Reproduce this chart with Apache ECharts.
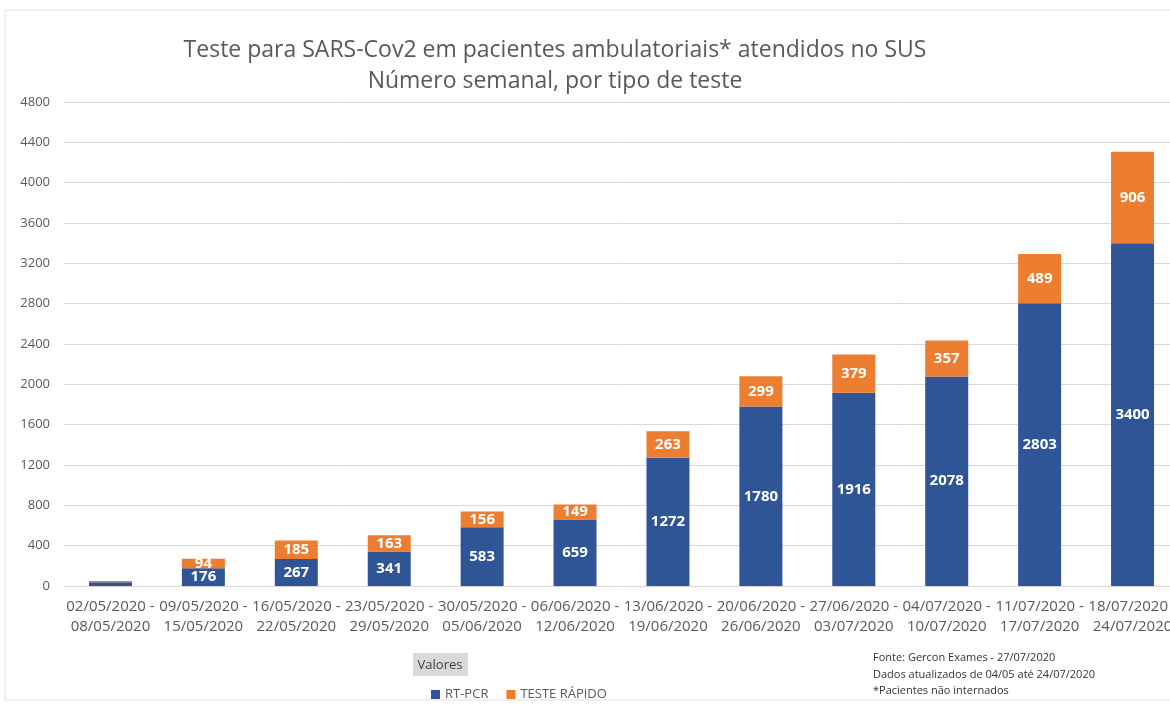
<!DOCTYPE html>
<html>
    <head>
        <meta charset="utf-8">
        <title>Teste para SARS-Cov2</title>
        <script src="https://cdn.jsdelivr.net/npm/echarts@6/dist/echarts.min.js"></script>
        <style>
            html, body { margin: 0; padding: 0; background: #fff; overflow: hidden; }
            #chart1 { width: 1180px; height: 711px; }
        </style>
    </head>
    <body>
        <div id="chart1"></div>
        <script type="text/javascript">
            const semanas = [
                '02/05/2020 -\n08/05/2020', '09/05/2020 -\n15/05/2020', '16/05/2020 -\n22/05/2020',
                '23/05/2020 -\n29/05/2020', '30/05/2020 -\n05/06/2020', '06/06/2020 -\n12/06/2020',
                '13/06/2020 -\n19/06/2020', '20/06/2020 -\n26/06/2020', '27/06/2020 -\n03/07/2020',
                '04/07/2020 -\n10/07/2020', '11/07/2020 -\n17/07/2020', '18/07/2020 -\n24/07/2020'
            ];
            const rtPcr = [38, 176, 267, 341, 583, 659, 1272, 1780, 1916, 2078, 2803, 3400];
            const testeRapido = [12, 94, 185, 163, 156, 149, 263, 299, 379, 357, 489, 906];

            const font = '"Open Sans", sans-serif';
            const myChart1 = echarts.init(document.getElementById('chart1'));

            function rotulo(p) {
                return p.value < 60 ? '' : p.value;
            }

            myChart1.setOption({
                animation: false,
                textStyle: { fontFamily: font },
                title: {
                    text: 'Teste para SARS-Cov2 em pacientes ambulatoriais* atendidos no SUS\nNúmero semanal, por tipo de teste',
                    left: 550,
                    top: 30,
                    textAlign: 'center',
                    textStyle: {
                        fontFamily: font,
                        fontWeight: 'normal',
                        fontSize: 23,
                        lineHeight: 31,
                        color: '#595959'
                    }
                },
                legend: {
                    data: ['RT-PCR', 'TESTE RÁPIDO'],
                    left: 426,
                    top: 683,
                    icon: 'rect',
                    itemWidth: 9,
                    itemHeight: 9,
                    itemGap: 18,
                    textStyle: { fontFamily: font, fontSize: 13, color: '#595959' }
                },
                grid: {
                    left: 64,
                    top: 102,
                    right: 1,
                    height: 484
                },
                xAxis: {
                    type: 'category',
                    data: semanas,
                    axisLine: { lineStyle: { color: '#d9d9d9' } },
                    axisTick: { show: false },
                    axisLabel: {
                        interval: 0,
                        fontFamily: font,
                        fontSize: 15,
                        lineHeight: 20,
                        color: '#595959',
                        margin: 11
                    }
                },
                yAxis: {
                    type: 'value',
                    min: 0,
                    max: 4800,
                    interval: 400,
                    axisLine: { show: false },
                    axisTick: { show: false },
                    splitLine: { lineStyle: { color: '#d9d9d9' } },
                    axisLabel: {
                        fontFamily: font,
                        fontSize: 13,
                        color: '#595959',
                        margin: 14,
                        formatter: function (v) { return String(v); }
                    }
                },
                graphic: [
                    {
                        type: 'rect',
                        shape: { x: 5, y: 10, width: 1200, height: 690 },
                        style: { fill: 'none', stroke: '#e0e0e0', lineWidth: 1 },
                        silent: true
                    },
                    {
                        type: 'group',
                        left: 413,
                        top: 653,
                        children: [
                            {
                                type: 'rect',
                                shape: { x: 0, y: 0, width: 55, height: 23 },
                                style: { fill: '#d9d9d9' }
                            },
                            {
                                type: 'text',
                                x: 27,
                                y: 12,
                                style: {
                                    text: 'Valores',
                                    font: '13px "Open Sans", sans-serif',
                                    fill: '#404040',
                                    align: 'center',
                                    verticalAlign: 'middle'
                                }
                            }
                        ]
                    },
                    {
                        type: 'text',
                        left: 873,
                        top: 650,
                        style: {
                            text: 'Fonte: Gercon Exames - 27/07/2020\nDados atualizados de 04/05 até 24/07/2020\n*Pacientes não internados',
                            font: '11px "Open Sans", sans-serif',
                            lineHeight: 16.5,
                            fill: '#333333'
                        }
                    }
                ],
                series: [
                    {
                        name: 'RT-PCR',
                        type: 'bar',
                        stack: 'total',
                        barWidth: 43,
                        data: rtPcr,
                        itemStyle: { color: '#2f5597' },
                        label: {
                            show: true,
                            position: 'inside',
                            formatter: rotulo,
                            color: '#ffffff',
                            fontFamily: font,
                            fontWeight: 'bold',
                            fontSize: 15
                        }
                    },
                    {
                        name: 'TESTE RÁPIDO',
                        type: 'bar',
                        stack: 'total',
                        barWidth: 43,
                        data: testeRapido,
                        itemStyle: { color: '#ed7d31' },
                        label: {
                            show: true,
                            position: 'inside',
                            formatter: rotulo,
                            color: '#ffffff',
                            fontFamily: font,
                            fontWeight: 'bold',
                            fontSize: 15
                        }
                    }
                ]
            });
        </script>
    </body>
</html>
